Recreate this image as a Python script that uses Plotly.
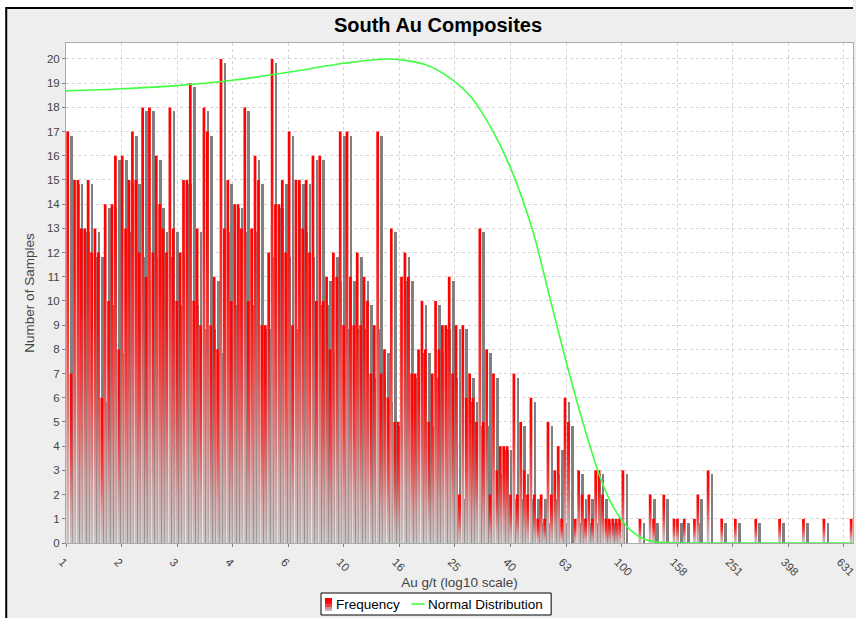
import plotly.graph_objects as go

# ---------------------------------------------------------------------------
# Histogram of South Au composites, binned evenly in log10(Au g/t) from 1 g/t
# ---------------------------------------------------------------------------
BIN_START_LOG = 0.0
BIN_WIDTH_LOG = 0.01226

FREQUENCY = [
    # bins 0-45
    17, 7, 15, 15, 13, 13, 15, 12, 13, 12, 6, 14, 10, 14, 16, 8, 16, 13, 15, 17,
    15, 12, 18, 11, 18, 12, 16, 14, 13, 12, 18, 13, 10, 12, 15, 15, 19, 10, 13, 9,
    18, 17, 9, 11, 8, 20,
    # bins 46-90
    13, 15, 10, 14, 14, 13, 18, 10, 13, 16, 15, 9, 9, 12, 20, 14, 14, 15, 12, 17,
    9, 15, 15, 13, 15, 12, 16, 10, 16, 10, 11, 8, 12, 11, 17, 9, 17, 11, 9, 12,
    9, 11, 10, 7, 9,
    # bins 91-136
    17, 7, 8, 6, 13, 5, 5, 11, 12, 11, 7, 7, 8, 10, 8, 5, 7, 10, 8, 9,
    9, 11, 7, 9, 2, 9, 6, 7, 6, 5, 13, 5, 8, 2, 7, 3, 4, 4, 4, 2,
    7, 2, 5, 3, 2, 6,
    # bins 137-183
    2, 1, 2, 1, 5, 2, 3, 4, 1, 6, 5, 0, 1, 3, 2, 1, 2, 1, 3, 3,
    2, 1, 1, 1, 1, 1, 3, 0, 0, 0, 0, 1, 0, 0, 2, 1, 0, 0, 2, 0,
    0, 1, 1, 0, 1, 0, 0,
    # bins 184-230
    1, 2, 0, 0, 3, 0, 0, 0, 1, 0, 0, 0, 1, 0, 0, 0, 0, 0, 1, 0,
    0, 0, 0, 0, 0, 1, 0, 0, 0, 0, 0, 0, 1, 0, 0, 0, 0, 0, 1, 0,
    0, 0, 0, 0, 0, 0, 1,
]

# Fitted normal distribution, sampled along the log10 axis
NORMAL_LOGX = [0.00, 0.20, 0.40, 0.60, 0.80, 1.00, 1.16, 1.29, 1.39, 1.46,
               1.53, 1.60, 1.68, 1.74, 1.80, 1.86, 1.92, 1.96, 2.00, 2.04,
               2.08, 2.12, 2.18, 2.25, 2.40, 2.84]
NORMAL_COUNT = [18.68, 18.77, 18.90, 19.12, 19.45, 19.82, 20.00, 19.78, 19.15, 18.40,
                17.15, 15.50, 12.90, 10.20, 7.50, 5.00, 2.80, 1.70, 0.95, 0.45,
                0.17, 0.05, 0.01, 0.0, 0.0, 0.0]

# Axis ticks: log10 positions and the rounded g/t values shown
TICK_LOG = [0.0, 0.2, 0.4, 0.6, 0.8, 1.0, 1.2, 1.4, 1.6, 1.8, 2.0, 2.2, 2.4, 2.6, 2.8]
TICK_LABELS = ["1", "2", "3", "4", "6", "10", "16", "25", "40", "63",
               "100", "158", "251", "398", "631"]
Y_TICKS = list(range(0, 21))

X_RANGE = [0.0, 2.8326]
Y_RANGE = [0.0, 20.66]

SERIES_NAMES = ["Frequency", "Normal Distribution"]

# ---------------------------------------------------------------------------
# Styling
# ---------------------------------------------------------------------------
FONT = "Liberation Sans, Arial, sans-serif"
BAR_FRACTION = 0.8                 # share of each bin covered by its bar
SHADOW_DX = 4 / 278.9              # 4 px to the right, in log10 units
SHADOW_DY = 4 / 24.2               # 4 px down, in count units
BAR_SCALE = [
    [0.0, "rgb(200,196,196)"],
    [0.2, "rgb(210,160,160)"],
    [0.5, "rgb(234,68,68)"],
    [0.75, "rgb(250,14,14)"],
    [1.0, "rgb(255,0,0)"],
]
SHADOW_COLOR = "rgb(128,128,128)"
LINE_GREEN = "rgb(64,255,64)"
TEXT_GREY = "rgb(68,68,68)"

W, H = 856, 618
M_L, M_R, M_T, M_B = 66, 0, 43, 75
PLOT_W = W - M_L - M_R
PLOT_H = H - M_T - M_B


def px_to_paper_x(px):
    return (px - M_L) / PLOT_W


def px_to_paper_y(py):
    return (H - M_B - py) / PLOT_H


fig = go.Figure()

bar_cut = BIN_WIDTH_LOG * (1 - BAR_FRACTION) / 2
bar_width = BIN_WIDTH_LOG * BAR_FRACTION
lefts = [BIN_START_LOG + i * BIN_WIDTH_LOG + bar_cut for i in range(len(FREQUENCY))]

# Drop shadows, drawn first so the bars sit on top of them
shadow_x = [l + bar_width / 2 + SHADOW_DX for l, v in zip(lefts, FREQUENCY) if v > 0]
shadow_y = [v for v in FREQUENCY if v > 0]
fig.add_trace(go.Bar(
    x=shadow_x, y=shadow_y, base=-SHADOW_DY, width=bar_width,
    marker=dict(color=SHADOW_COLOR, line=dict(width=0)),
    hoverinfo="skip", showlegend=False,
))

# Each bar gets its own top-to-bottom gradient (red to light grey)
for left, count in zip(lefts, FREQUENCY):
    if count <= 0:
        continue
    right = left + bar_width
    fig.add_trace(go.Scatter(
        x=[left, left, right, right, left],
        y=[0, count, count, 0, 0],
        mode="lines", line=dict(width=0),
        fill="toself",
        fillgradient=dict(type="vertical", colorscale=BAR_SCALE),
        hoverinfo="skip", showlegend=False, name=SERIES_NAMES[0],
    ))

fig.add_trace(go.Scatter(
    x=NORMAL_LOGX, y=NORMAL_COUNT, mode="lines",
    line=dict(color=LINE_GREEN, width=1.6, shape="spline", smoothing=0.8),
    name=SERIES_NAMES[1], hoverinfo="skip", showlegend=False,
))

axis_common = dict(
    showgrid=True, gridcolor="rgb(212,212,212)", griddash="3px,3px", gridwidth=1,
    showline=True, linecolor="rgb(170,170,170)", linewidth=1, mirror=True,
    zeroline=False, ticks="outside", ticklen=3, tickcolor="rgb(128,128,128)",
    tickfont=dict(family=FONT, size=11.5, color=TEXT_GREY),
)

fig.update_xaxes(
    range=X_RANGE, tickmode="array", tickvals=TICK_LOG, ticktext=TICK_LABELS,
    tickangle=45, ticklabeloverflow="allow", ticklabelshift=-4, ticklabelstandoff=4,
    title=dict(text="Au g/t (log10 scale)", font=dict(family=FONT, size=13.5, color=TEXT_GREY),
               standoff=0),
    **axis_common,
)
fig.update_yaxes(
    range=Y_RANGE, tickmode="array", tickvals=Y_TICKS,
    title=dict(text="Number of Samples", font=dict(family=FONT, size=13.5, color=TEXT_GREY),
               standoff=9),
    **axis_common,
)

# Chart panel frame: white edge with a dark border line on the left and top
shapes = [
    dict(type="rect", xref="paper", yref="paper",
         x0=px_to_paper_x(0), x1=px_to_paper_x(5), y0=px_to_paper_y(H), y1=px_to_paper_y(0),
         fillcolor="white", line=dict(width=0)),
    dict(type="rect", xref="paper", yref="paper",
         x0=px_to_paper_x(0), x1=px_to_paper_x(W), y0=px_to_paper_y(7), y1=px_to_paper_y(0),
         fillcolor="white", line=dict(width=0)),
    dict(type="line", xref="paper", yref="paper",
         x0=px_to_paper_x(6), x1=px_to_paper_x(6), y0=px_to_paper_y(H), y1=px_to_paper_y(8),
         line=dict(color="black", width=2)),
    dict(type="line", xref="paper", yref="paper",
         x0=px_to_paper_x(5), x1=px_to_paper_x(W), y0=px_to_paper_y(8), y1=px_to_paper_y(8),
         line=dict(color="black", width=2)),
]

# Legend box below the axis title
LEG_L, LEG_R, LEG_T, LEG_B = 322, 553, 593, 615
LEG_MID = (LEG_T + LEG_B) / 2
shapes.append(dict(type="rect", xref="paper", yref="paper",
                   x0=px_to_paper_x(LEG_L), x1=px_to_paper_x(LEG_R),
                   y0=px_to_paper_y(LEG_B), y1=px_to_paper_y(LEG_T),
                   fillcolor="white", line=dict(color="black", width=1)))
# Frequency swatch: small bar with the same red-to-grey fade
swatch_steps = [(598, 601, "rgb(255,0,0)"), (601, 604, "rgb(250,14,14)"),
                (604, 607, "rgb(234,68,68)"), (607, 609, "rgb(215,140,140)"),
                (609, 611, "rgb(202,185,185)")]
for top, bottom, colour in swatch_steps:
    shapes.append(dict(type="rect", xref="paper", yref="paper",
                       x0=px_to_paper_x(326), x1=px_to_paper_x(333),
                       y0=px_to_paper_y(bottom), y1=px_to_paper_y(top),
                       fillcolor=colour, line=dict(width=0)))
# Normal distribution swatch
shapes.append(dict(type="line", xref="paper", yref="paper",
                   x0=px_to_paper_x(413), x1=px_to_paper_x(426),
                   y0=px_to_paper_y(LEG_MID), y1=px_to_paper_y(LEG_MID),
                   line=dict(color=LINE_GREEN, width=1.6)))

annotations = [
    dict(text=SERIES_NAMES[0], xref="paper", yref="paper",
         x=px_to_paper_x(335), y=px_to_paper_y(LEG_MID), xanchor="left", yanchor="middle",
         showarrow=False, font=dict(family=FONT, size=13.5, color="black")),
    dict(text=SERIES_NAMES[1], xref="paper", yref="paper",
         x=px_to_paper_x(427), y=px_to_paper_y(LEG_MID), xanchor="left", yanchor="middle",
         showarrow=False, font=dict(family=FONT, size=13.5, color="black")),
]

fig.update_layout(
    width=W, height=H,
    margin=dict(l=M_L, r=M_R, t=M_T, b=M_B),
    paper_bgcolor="rgb(238,238,238)", plot_bgcolor="white",
    barmode="overlay", bargap=0,
    shapes=shapes, annotations=annotations,
    title=dict(text="South Au Composites", xref="container", yref="container",
               x=438 / W, xanchor="center", y=1 - 25 / H, yanchor="middle",
               font=dict(family=FONT, size=20, color="black", weight="bold")),
    showlegend=False,
)

fig.write_html("out.html")
